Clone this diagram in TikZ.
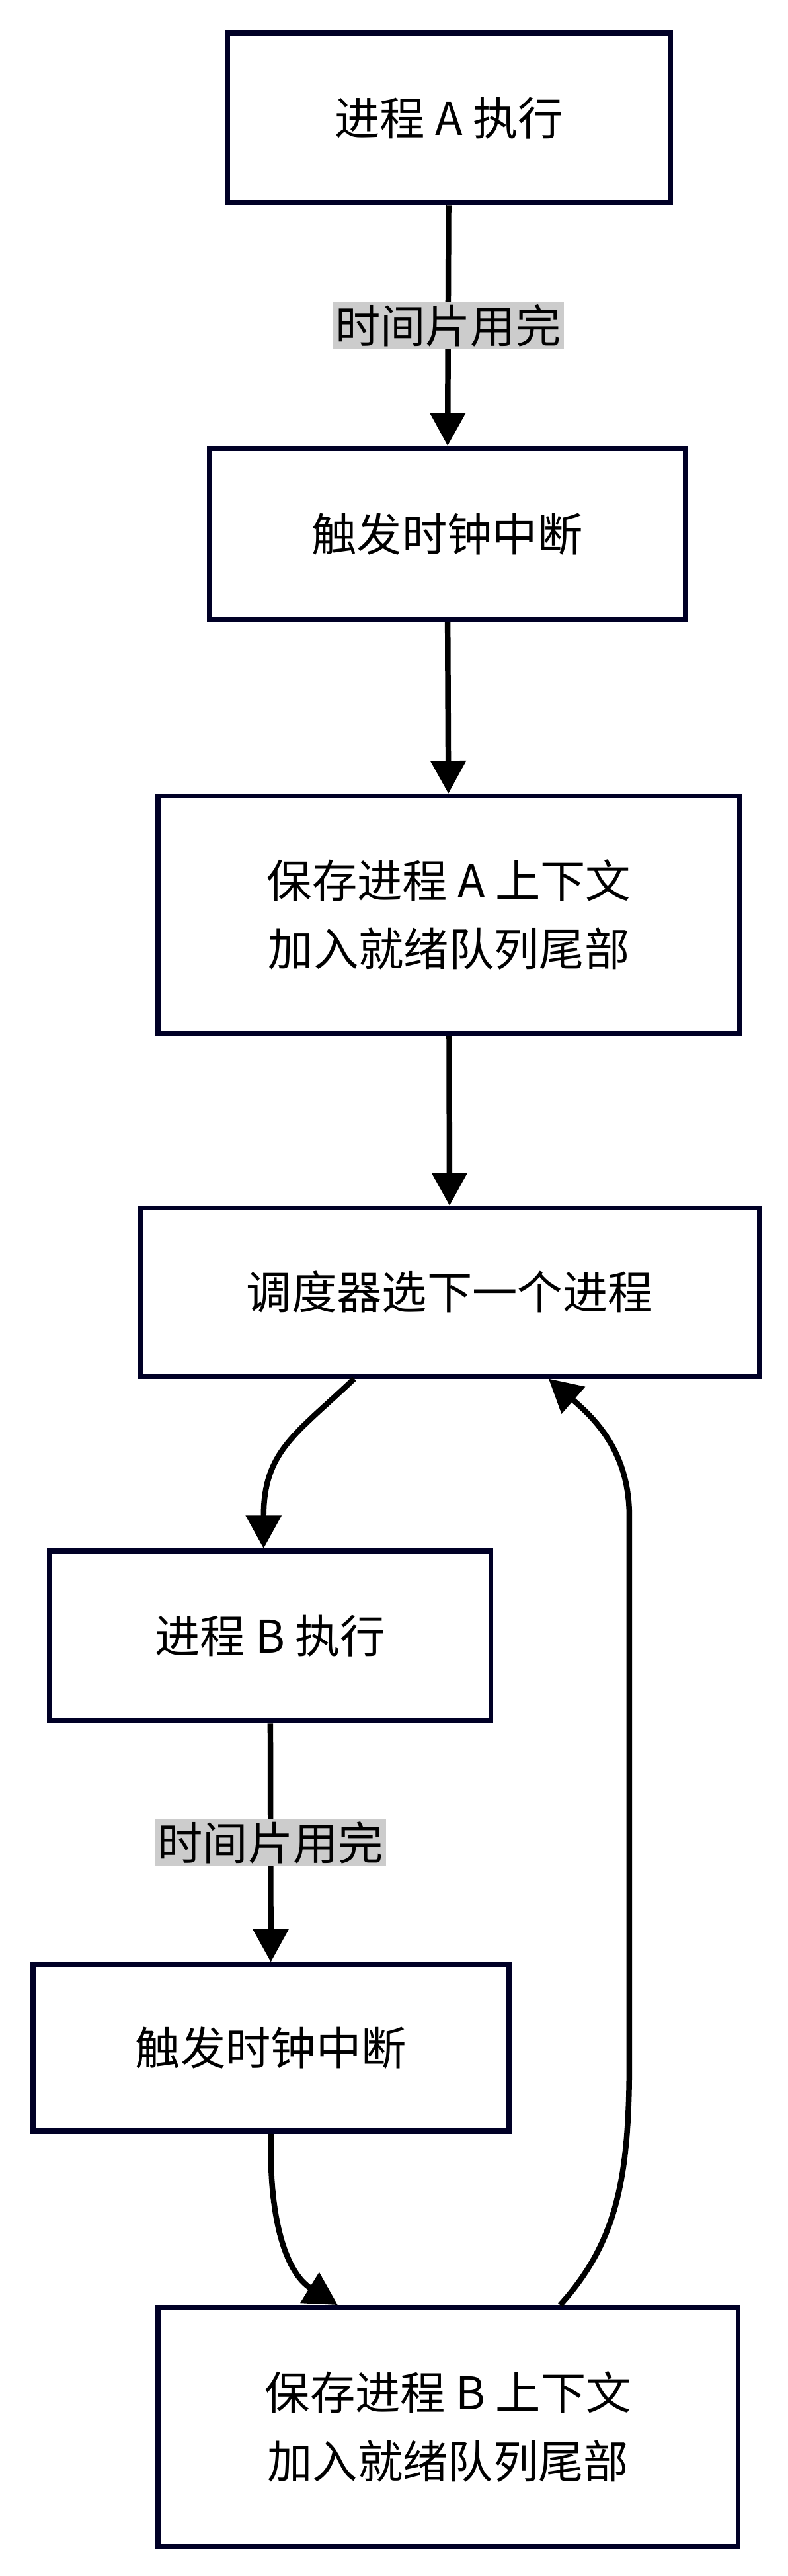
\documentclass[tikz,border=0pt]{standalone}
\usepackage{fontspec}
\setmainfont{Noto Sans CJK SC}
\usetikzlibrary{arrows.meta}
\begin{document}
\begin{tikzpicture}[x=1mm,y=-1mm,
 box/.style={draw=black!85!blue,line width=3mm,fill=white,align=center,font=\fontsize{78}{118}\selectfont,inner sep=0},
 lab/.style={fill=black!20,font=\fontsize{78}{90}\selectfont,inner sep=5pt},
 arr/.style={line width=3.4mm,-{Triangle[length=20mm,width=21mm]}}]
\fill[white] (0,0) rectangle (478,1563);
\node[box,minimum width=269mm,minimum height=103mm] (a) at (272.5,71.5) {进程 A 执行};
\node[box,minimum width=289mm,minimum height=104mm] (b) at (271.5,324) {触发时钟中断};
\node[box,minimum width=353mm,minimum height=144mm] (c) at (272.5,555) {保存进程 A 上下文\\加入就绪队列尾部};
\node[box,minimum width=376mm,minimum height=102mm] (d) at (273,784) {调度器选下一个进程};
\node[box,minimum width=268mm,minimum height=103mm] (e) at (164,992.5) {进程 B 执行};
\node[box,minimum width=289mm,minimum height=101mm] (f) at (164.5,1242.5) {触发时钟中断};
\node[box,minimum width=352mm,minimum height=145mm] (g) at (272,1472.5) {保存进程 B 上下文\\加入就绪队列尾部};
\draw[arr] (a) -- node[lab]{时间片用完} (b);
\draw[arr] (b) -- (c);
\draw[arr] (c) -- (d);
\draw[arr] (e) -- node[lab]{时间片用完} (f);
\draw[arr] ([xshift=-58mm]d.south) .. controls (180,870) and (160,880) .. ([xshift=-4mm]e.north);
\draw[arr] (f.south) .. controls (163,1350) and (175,1380) .. ([xshift=-67mm]g.north);
\draw[arr] ([xshift=68mm]g.north) .. controls (375,1360) and (382,1320) .. (382,1250) -- (382,920) .. controls (382,880) and (360,860) .. ([xshift=60mm]d.south);
\end{tikzpicture}
\end{document}
